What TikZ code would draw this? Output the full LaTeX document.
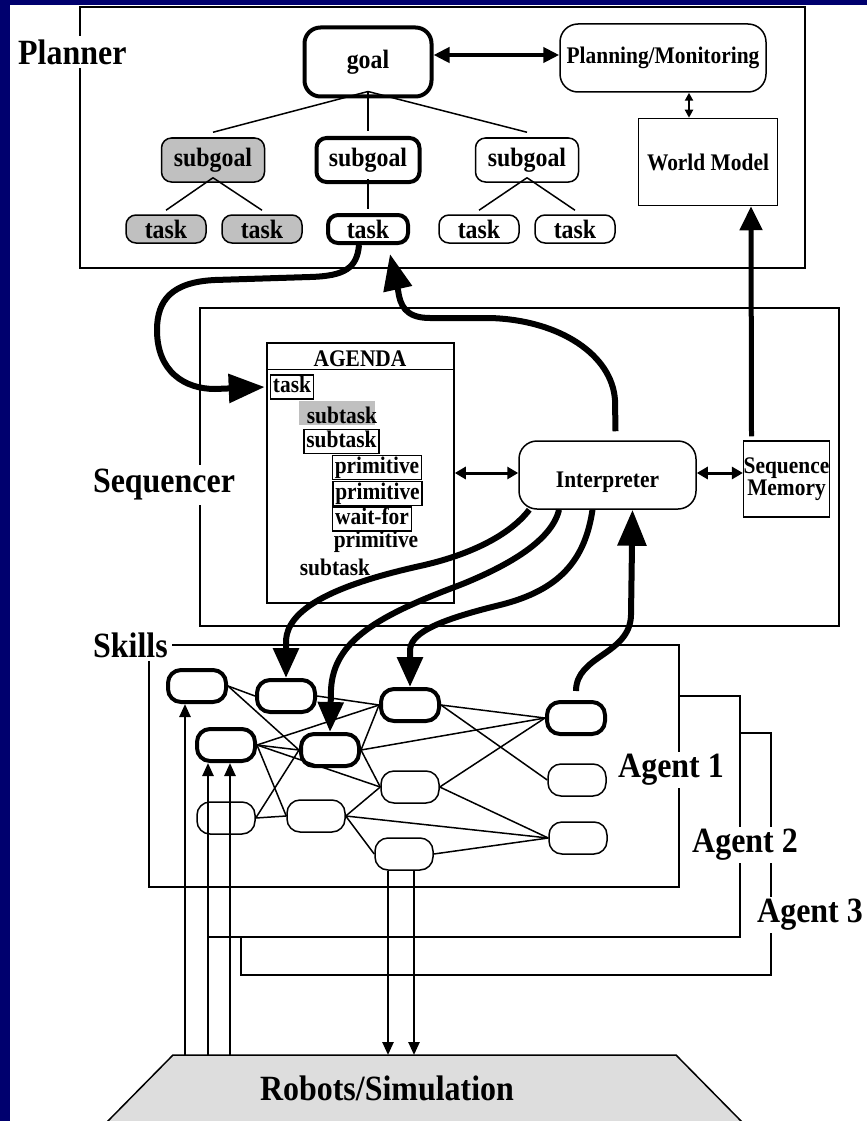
\documentclass[tikz,border=0pt]{standalone}
\usepackage{fontspec}
\setmainfont{Liberation Serif}[FakeStretch=0.9]
\usepackage{tikz}
\usetikzlibrary{arrows.meta}

\definecolor{navy}{RGB}{0,0,110}
\definecolor{donegray}{RGB}{192,192,192}
\definecolor{robotgray}{RGB}{221,221,221}
\newcommand{\biglbl}{\fontsize{35.5}{38}\selectfont}
\newcommand{\treelbl}{\fontsize{26.5}{28}\selectfont}
\newcommand{\boxlbl}{\fontsize{23.8}{20}\selectfont}

\begin{document}
\begin{tikzpicture}[x=1pt, y=-1pt, font=\bfseries,
  frame/.style={draw, line width=1.5pt},
  biglabel/.style={fill=white, inner sep=4pt, font=\bfseries\biglbl},
  planbox/.style={draw, rounded corners=10pt, line width=1.5pt, minimum width=80pt, minimum height=28pt, inner sep=0pt, font=\bfseries\treelbl},
  hot/.style={line width=4pt},
  done/.style={fill=donegray},
  item/.style={draw, line width=1.5pt, inner xsep=2.5pt, inner ysep=1.5pt, text height=16pt, text depth=5pt, font=\bfseries\boxlbl},
  plain/.style={inner sep=1.5pt, text height=16pt, text depth=5pt, font=\bfseries\boxlbl},
  skill/.style={draw, rounded corners=13pt, line width=1.5pt, minimum width=58pt, minimum height=32pt},
  edge/.style={line width=1.5pt},
  flow/.style={line width=6pt, -{Triangle[width=25pt,length=30pt]}},
  bigflow/.style={line width=6pt, -{Triangle[width=28pt,length=36pt]}},
  link/.style={line width=3pt, {Triangle[width=12pt,length=11pt]}-{Triangle[width=12pt,length=11pt]}},
  feed/.style={line width=2.5pt, -{Triangle[width=11pt,length=13pt]}}]

\useasboundingbox (0,0) rectangle (867,1121);
\fill[navy] (0,0) rectangle (867,1121);
\fill[white] (10,5) rectangle (867,1121);
\clip (0,0) rectangle (867,1121);

% planner
\draw[frame] (80,7) rectangle (805,268);
\node[biglabel, anchor=west] (planner) at (14,52) {Planner};
\node[planbox, hot, minimum width=127pt, minimum height=69pt, rounded corners=16pt] (goal) at (368,62) {goal};
\node[planbox, minimum width=206pt, minimum height=68pt, rounded corners=18pt, font=\bfseries\boxlbl] (plan) at (663,58) {Planning/Monitoring};
\node[draw, line width=1.5pt, minimum width=139pt, minimum height=87pt, font=\bfseries\boxlbl] (world) at (708,162) {World Model};
\node[planbox, done, minimum width=103pt, minimum height=44pt] (sgA) at (213,160) {subgoal};
\node[planbox, hot, minimum width=103pt, minimum height=44pt] (sgB) at (368,160) {subgoal};
\node[planbox, minimum width=103pt, minimum height=44pt] (sgC) at (527,160) {subgoal};
\node[planbox, done] (tA1) at (166,229) {task};
\node[planbox, done] (tA2) at (262,229) {task};
\node[planbox, hot] (t3) at (368,229) {task};
\node[planbox] (tC1) at (479,229) {task};
\node[planbox] (tC2) at (575,229) {task};
\foreach \s in {sgA,sgB,sgC}
  \draw[edge] ([yshift=7pt]goal.south) -- ([yshift=5pt]\s.north);
\foreach \s/\t in {sgA/tA1, sgA/tA2, sgB/t3, sgC/tC1, sgC/tC2}
  \draw[edge] ([yshift=5pt]\s.south) -- ([yshift=4pt]\t.north);
\draw[line width=4pt, {Triangle[width=15pt,length=16pt]}-{Triangle[width=15pt,length=16pt]}] ([yshift=7pt]goal.east) -- ([yshift=3pt]plan.west);
\draw[line width=2pt, {Triangle[width=8pt,length=8pt]}-{Triangle[width=8pt,length=8pt]}] ([xshift=26pt]plan.south) -- ([xshift=-19pt]world.north);

% sequencer
\draw[frame] (200,308) rectangle (839,626);
\node[biglabel] (sequencer) at (164,485) {Sequencer};
\node[draw, line width=1.5pt, minimum width=187pt, minimum height=260pt] (agenda) at (360.5,473) {};
\draw[line width=1.5pt] ([yshift=-27pt]agenda.north west) -- ([yshift=-27pt]agenda.north east);
\node[font=\bfseries\boxlbl] (agendatitle) at (360,359) {AGENDA};
\node[item] (atask) at (292,387) {task};
\node[fill=donegray, minimum width=76pt, minimum height=24pt, inner sep=0pt] (shade) at (337,413) {};
\node[plain, inner sep=0pt, text depth=0pt] (sub1) at (342,415.5) {subtask};
\node[item] (sub2) at (341.5,441.5) {subtask};
\node[item] (prim1) at (377,467.5) {primitive};
\node[item] (prim2) at (377.5,493.5) {primitive};
\node[item] (wait) at (372,519) {wait-for};
\node[plain] (prim3) at (376,542) {primitive};
\node[plain] (sub3) at (335,570) {subtask};
\node[draw, rounded corners=18pt, line width=1.5pt, minimum width=177pt, minimum height=68pt, text height=30pt, font=\bfseries\boxlbl] (interp) at (607.5,475) {Interpreter};
\node[draw, line width=1.5pt, minimum width=85pt, minimum height=76pt, inner sep=0pt, align=center, font=\bfseries\boxlbl] (smem) at (786.5,479) {Sequence\\Memory};
\draw[link] (agenda.east) -- ([yshift=2pt]interp.west);
\draw[link] ([yshift=2pt]interp.east) -- ([yshift=6pt]smem.west);
\draw[line width=5pt, -{Triangle[width=22pt,length=24pt]}] ([xshift=-35pt,yshift=4pt]smem.north) -- ([xshift=43pt]world.south);

% skills and agents
\draw[frame] (149,645) rectangle (679,887);
\draw[frame] (679,696) -- (740,696) -- (740,937) -- (208,937);
\draw[frame] (740,733) -- (771,733) -- (771,975) -- (241,975) -- (241,937);
\node[biglabel, anchor=west] (skills) at (89,645) {Skills};
\node[biglabel, inner sep=2pt] (agentA) at (671,770) {Agent 1};
\node[biglabel, inner sep=2pt] (agentB) at (745,845) {Agent 2};
\node[biglabel, inner sep=2pt] (agentC) at (810,915) {Agent 3};
\node[skill, hot] (n1) at (197,686) {};
\node[skill, hot] (n2) at (286,696) {};
\node[skill, hot] (n3) at (410,705) {};
\node[skill, hot] (n4) at (576,718) {};
\node[skill, hot] (n5) at (226,745) {};
\node[skill, hot] (n6) at (330,750) {};
\node[skill] (n7) at (410,787) {};
\node[skill] (n8) at (577,780) {};
\node[skill] (n9) at (226,818) {};
\node[skill] (n10) at (316,816) {};
\node[skill] (n11) at (578,838) {};
\node[skill] (n12) at (404,854) {};
\foreach \a/\b in {n1/n2, n1/n6, n2/n3, n5/n3, n5/n6, n5/n7, n5/n10, n9/n6, n9/n10,
    n6/n3, n6/n4, n6/n7, n3/n4, n3/n8, n7/n4, n7/n11, n10/n7, n10/n11, n10/n12, n12/n11}
  \draw[edge] (\a.east) -- (\b.west);

% flows between layers
\draw[flow] ([xshift=11pt]interp.south west) .. controls (510,535) and (470,555) .. (420,566)
  .. controls (330,586) and (288,610) .. (286,640) -- (n2.north);
\draw[flow] ([xshift=-48.5pt]interp.south) .. controls (552,540) and (510,565) .. (460,585)
  .. controls (380,615) and (333,640) .. (331,690) -- (n6.north);
\draw[flow] ([xshift=-15pt]interp.south) .. controls (585,560) and (560,590) .. (500,605)
  .. controls (430,622) and (411,635) .. (410,650) -- (n3.north);
\draw[bigflow] ([yshift=9pt]n4.north) .. controls (576,655) and (630,655) .. (631,615)
  -- ([xshift=25pt]interp.south);
\draw[bigflow] ([xshift=8pt,yshift=9pt]interp.north) -- (615,400) .. controls (612,355) and (560,320) .. (490,318)
  -- (430,318) .. controls (405,318) and (400,305) .. (398,290) -- ([xshift=22pt,yshift=-9pt]t3.south);
\draw[bigflow] ([xshift=-9pt]t3.south) .. controls (357,268) and (345,276) .. (310,277) -- (215,280)
  .. controls (172,282) and (157,300) .. (157,330) .. controls (157,372) and (185,389) .. (215,389)
  -- ([xshift=-5pt]atask.west);

% robots
\draw[fill=robotgray, line width=1.5pt] (106,1123) -- (173,1055) -- (676,1055) -- (743,1123);
\node[font=\bfseries\biglbl] (robots) at (387,1088) {Robots/Simulation};
\coordinate (upA) at (185,1055);
\coordinate (upB) at (208,1055);
\coordinate (upC) at (230,1055);
\coordinate (dnA) at (388,1055);
\coordinate (dnB) at (414,1055);
\draw[feed] (upA) -- (upA |- n1.south);
\draw[feed] (upB) -- (upB |- n5.south);
\draw[feed] (upC) -- (upC |- n5.south);
\draw[feed] (dnA |- n12.south) -- (dnA);
\draw[feed] (dnB |- n12.south) -- (dnB);
\end{tikzpicture}
\end{document}
